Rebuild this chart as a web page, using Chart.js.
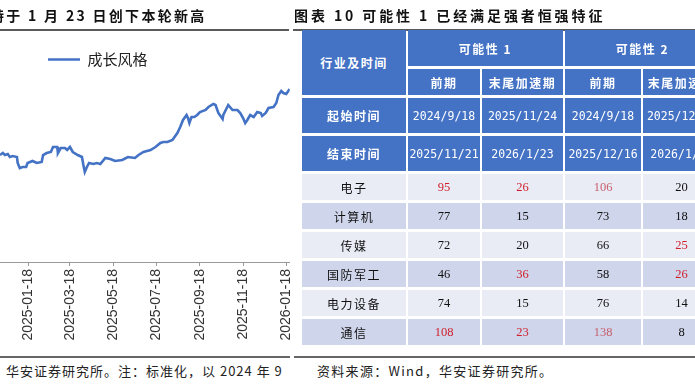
<!DOCTYPE html>
<html><head><meta charset="utf-8">
<script src="https://cdn.jsdelivr.net/npm/chart.js@4.4.1/dist/chart.umd.min.js"></script>
<style>
html,body{margin:0;padding:0;}
body{width:695px;height:387px;overflow:hidden;background:#fff;position:relative;font-family:"Noto Sans CJK SC",sans-serif;}
.title{position:absolute;top:5px;font-size:14px;font-weight:bold;letter-spacing:2.6px;white-space:nowrap;color:#111;line-height:20px;}
.rule{position:absolute;background:#5a5a5a;}
.foot{position:absolute;top:362px;font-size:13px;letter-spacing:1.3px;white-space:nowrap;color:#222;line-height:18px;}
#chartBox{position:absolute;left:0;top:0;}
table{position:absolute;left:300px;top:27px;border-collapse:separate;border-spacing:2px 3px;table-layout:fixed;width:422px;}
td{padding:0;text-align:center;vertical-align:middle;overflow:hidden;white-space:nowrap;}
td.h{background:#4472C4;color:#fff;font-size:12px;font-weight:bold;letter-spacing:1.5px;}
td.d{background:#4472C4;color:#fff;font-family:"DejaVu Sans Mono",monospace;font-size:11.5px;}
tr.r0 td{background:#E9EBF5;}
tr.r1 td{background:#CFD5EA;}
td.lab{font-size:12px;letter-spacing:1.5px;color:#111;}
td.num{font-family:"Liberation Serif",serif;font-size:12.5px;color:#111;}
td.num.e2{color:#D0202C;}
td.num.e1{color:#C8606E;}
</style></head>
<body>
<div id="chartBox"><canvas id="c" width="306" height="346"></canvas></div>
<div class="title" style="left:-10px;letter-spacing:2.3px">特于 1 月 23 日创下本轮新高</div>
<div class="title" style="left:294px;letter-spacing:2.9px">图表 10 可能性 1 已经满足强者恒强特征</div>
<div class="rule" style="left:0;top:29px;width:289px;height:1.5px"></div>
<div class="rule" style="left:293px;top:29px;width:402px;height:1.5px"></div>
<div class="rule" style="left:0;top:356px;width:290px;height:2px;background:#666"></div>
<div class="rule" style="left:294px;top:356px;width:401px;height:2px;background:#666"></div>
<div class="foot" style="left:6px;letter-spacing:1.0px">华安证券研究所。注：标准化，以 2024 年 9</div>
<div class="foot" style="left:317px">资料来源：Wind，华安证券研究所。</div>
<table id="tbl"></table>
<script>
// ---------- line chart data ----------
const seriesName = '成长风格';
const dates = ['2024-12-09','2024-12-13','2024-12-16','2024-12-20','2024-12-23','2024-12-27','2025-01-02','2025-01-03','2025-01-06','2025-01-10','2025-01-15','2025-01-17','2025-01-24','2025-01-30','2025-02-06','2025-02-08','2025-02-13','2025-02-19','2025-02-22','2025-02-28','2025-03-01','2025-03-05','2025-03-11','2025-03-14','2025-03-18','2025-03-22','2025-03-29','2025-04-04','2025-04-06','2025-04-08','2025-04-11','2025-04-14','2025-04-20','2025-04-25','2025-04-30','2025-05-07','2025-05-14','2025-05-21','2025-05-31','2025-06-08','2025-06-18','2025-06-23','2025-06-30','2025-07-10','2025-07-17','2025-07-24','2025-07-28','2025-08-03','2025-08-10','2025-08-17','2025-08-21','2025-08-25','2025-08-30','2025-09-01','2025-09-03','2025-09-06','2025-09-10','2025-09-14','2025-09-18','2025-09-26','2025-09-30','2025-10-07','2025-10-10','2025-10-14','2025-10-20','2025-10-21','2025-10-28','2025-11-03','2025-11-10','2025-11-14','2025-11-18','2025-11-21','2025-11-24','2025-11-28','2025-12-03','2025-12-08','2025-12-13','2025-12-15','2025-12-20','2025-12-24','2025-12-31','2026-01-04','2026-01-07','2026-01-11','2026-01-14','2026-01-18','2026-01-21','2026-01-23'];
const growthValues = [1.67,1.69,1.67,1.68,1.65,1.66,1.65,1.59,1.54,1.55,1.55,1.59,1.61,1.59,1.60,1.67,1.69,1.70,1.75,1.75,1.69,1.74,1.74,1.72,1.75,1.70,1.67,1.65,1.57,1.50,1.55,1.59,1.58,1.59,1.58,1.64,1.63,1.61,1.62,1.65,1.64,1.67,1.70,1.72,1.75,1.79,1.80,1.80,1.82,1.89,1.95,2.02,2.07,2.04,1.99,2.05,2.05,2.07,2.10,2.12,2.15,2.18,2.17,2.09,2.03,2.07,2.17,2.12,2.12,2.09,2.04,1.99,2.02,2.07,2.05,2.10,2.09,2.06,2.09,2.14,2.15,2.19,2.27,2.31,2.29,2.28,2.31,2.33];
const tickLabels = ['2025-01-18','2025-03-18','2025-05-18','2025-07-18','2025-09-18','2025-11-18','2026-01-18'];

// ---------- table data ----------
const groupHeaders = ['可能性 1','可能性 2'];
const phaseHeaders = ['前期','末尾加速期','前期','末尾加速期'];
const startDates = ['2024/9/18','2025/11/24','2024/9/18','2025/12/17'];
const endDates = ['2025/11/21','2026/1/23','2025/12/16','2026/1/23'];
const industries = ['电子','计算机','传媒','国防军工','电力设备','通信'];
const p1Pre  = [95, 77, 72, 46, 74, 108];
const p1Tail = [26, 15, 20, 36, 15, 23];
const p2Pre  = [106, 73, 66, 58, 76, 138];
const p2Tail = [20, 18, 25, 26, 14, 8];
// emphasis level: 2 = red, 1 = light red, 0 = normal
const p1PreMark  = [2,0,0,0,0,2];
const p1TailMark = [2,0,0,2,0,2];
const p2PreMark  = [1,0,0,0,0,1];
const p2TailMark = [0,0,2,2,0,0];

// ---------- build table ----------
(function(){
  const t = document.getElementById('tbl');
  const widths = [104,72,81,76,77];
  let html = '<colgroup>' + widths.map(w=>`<col style="width:${w}px">`).join('') + '</colgroup>';
  html += `<tr><td class="h" rowspan="2" style="height:36px">行业及时间</td>` +
          groupHeaders.map(g=>`<td class="h" colspan="2" style="height:36px">${g}</td>`).join('') + '</tr>';
  html += '<tr>' + phaseHeaders.map(p=>`<td class="h" style="height:26px">${p}</td>`).join('') + '</tr>';
  html += '<tr><td class="h" style="height:35px">起始时间</td>' + startDates.map(d=>`<td class="d">${d}</td>`).join('') + '</tr>';
  html += '<tr><td class="h" style="height:35px">结束时间</td>' + endDates.map(d=>`<td class="d">${d}</td>`).join('') + '</tr>';
  const cols = [[p1Pre,p1PreMark],[p1Tail,p1TailMark],[p2Pre,p2PreMark],[p2Tail,p2TailMark]];
  industries.forEach((name,i)=>{
    html += `<tr class="r${i%2}"><td class="lab" style="height:26px">${name}</td>` +
      cols.map(([v,m])=>`<td class="num e${m[i]}">${v[i]}</td>`).join('') + '</tr>';
  });
  t.innerHTML = html;
})();

// ---------- chart ----------
const BASE = Date.UTC(2024, 8, 18);
const dayOf = s => { const [y,m,d] = s.split('-').map(Number); return Math.round((Date.UTC(y,m-1,d) - BASE) / 864e5); };
const fmtDay = n => new Date(BASE + Math.round(n) * 864e5).toISOString().slice(0,10);

const legendShift = {
  id: 'legendShift',
  afterLayout(chart){
    const l = chart.legend, ca = chart.chartArea;
    if (!l) return;
    l.left = ca.left + 38; l.top = ca.top;
    l.right = l.left + l.width; l.bottom = l.top + l.height;
  }
};

new Chart(document.getElementById('c'), {
  type: 'line',
  data: {
    datasets: [{
      label: seriesName,
      data: dates.map((d,i)=>({x: dayOf(d), y: growthValues[i]})),
      borderColor: '#4472C4',
      backgroundColor: '#4472C4',
      borderWidth: 2.6,
      pointRadius: 0,
      tension: 0
    }]
  },
  options: {
    responsive: false,
    animation: false,
    events: [],
    layout: { padding: { left: 0, right: 0, top: 42, bottom: 0 } },
    scales: {
      x: {
        type: 'linear',
        min: dayOf(dates[0]),
        max: dayOf(dates[dates.length-1]),
        afterBuildTicks: s => { s.ticks = tickLabels.map(t => ({ value: dayOf(t) })); },
        afterFit: s => { s.height = 84; },
        ticks: {
          autoSkip: false, minRotation: 90, maxRotation: 90,
          callback: v => fmtDay(v),
          font: { family: 'Liberation Sans', size: 14 },
          color: '#333', padding: 3
        },
        grid: { drawOnChartArea: false, drawTicks: true, tickLength: 4, color: '#999' },
        border: { color: '#999', width: 1 }
      },
      y: { display: false, min: 0.6, max: 2.8 }
    },
    plugins: {
      legend: {
        position: 'chartArea', align: 'start',
        labels: {
          usePointStyle: true, pointStyle: 'line', pointStyleWidth: 32,
          font: { family: 'Noto Sans CJK SC', size: 15 }, color: '#222', padding: 10
        }
      },
      tooltip: { enabled: false }
    }
  },
  plugins: [legendShift]
});
</script>
</body></html>
